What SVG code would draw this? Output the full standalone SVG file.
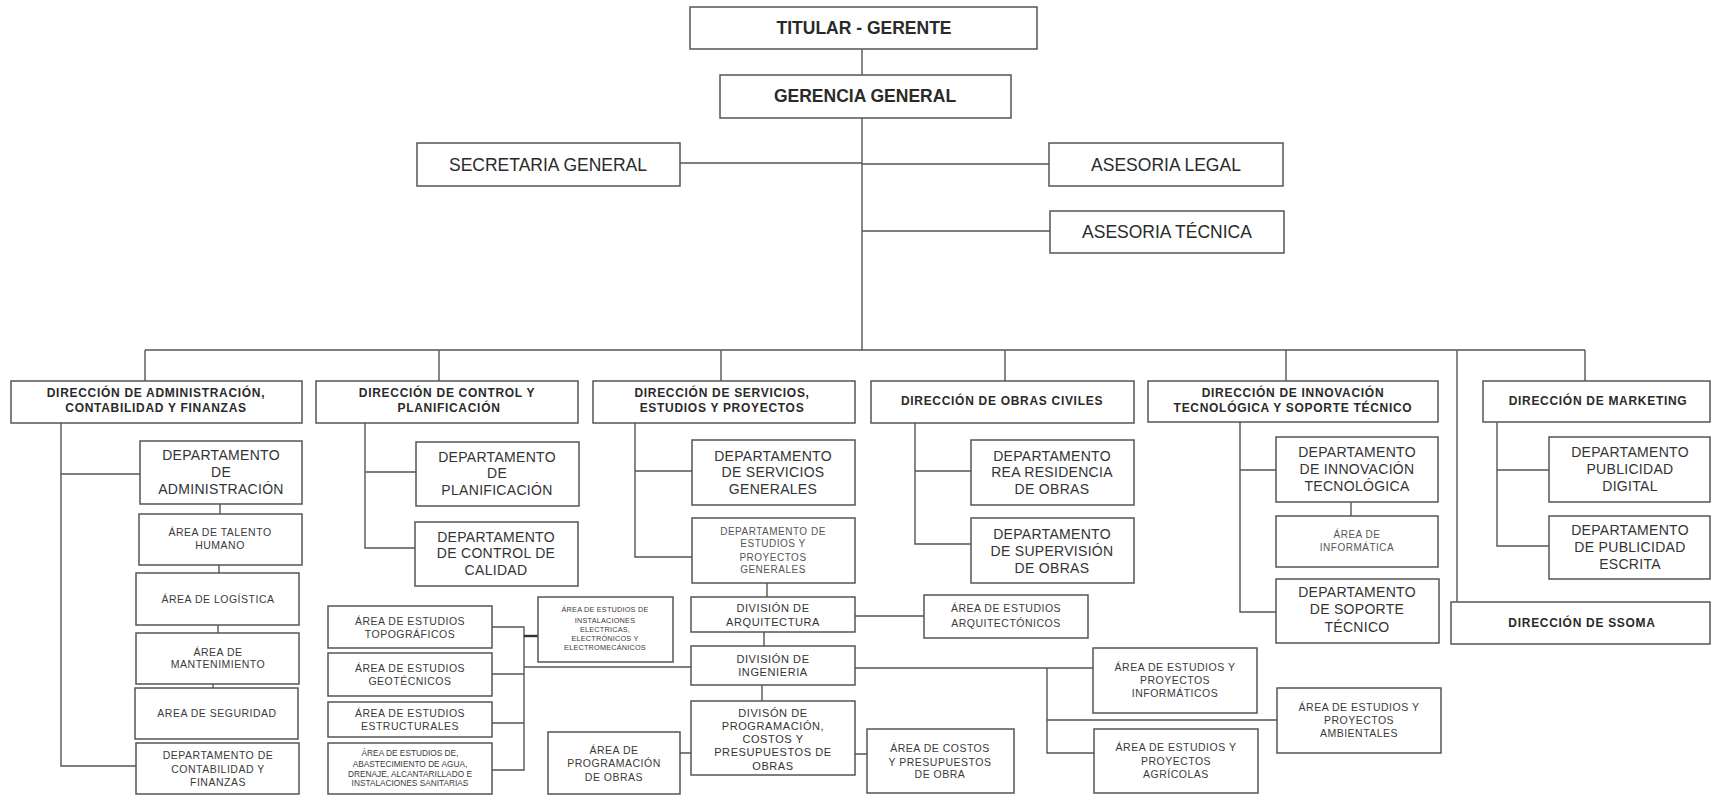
<svg xmlns="http://www.w3.org/2000/svg" width="1712" height="795" viewBox="0 0 1712 795">
<style>
.bg{fill:#ffffff}
.box{fill:#ffffff;stroke:#555555;stroke-width:1.5}
.ln{fill:none;stroke:#555555;stroke-width:1.4}
.thk{fill:none;stroke:#333333;stroke-width:2.4}
text{font-family:"Liberation Sans",Arial,sans-serif;text-anchor:middle;fill:#2a2a2a}
.t1{font-size:17.5px;font-weight:bold}
.t2{font-size:17.5px}
.dir{font-size:12px;font-weight:bold;letter-spacing:0.7px}
.dept{font-size:14px;letter-spacing:0.3px;fill:#333333}
.area{font-size:10.5px;letter-spacing:0.5px;fill:#3a3a3a}
.div{font-size:11px;letter-spacing:0.6px;fill:#333333}
.light{font-size:10px;letter-spacing:0.5px;fill:#555555}
.small{font-size:8.3px;fill:#3a3a3a}
.tiny{font-size:7.3px;letter-spacing:0.2px;fill:#3a3a3a}
</style>
<rect class="bg" x="0" y="0" width="1712" height="795"/>

<g id="connectors">
  <path class="ln" d="M862 49V350"/>
  <path class="ln" d="M680 163H862M862 164H1049M862 231H1050"/>
  <path class="ln" d="M145 350H1585"/>
  <path class="ln" d="M145 350V381M439 350V381M721 350V381M1005 350V381M1286 350V381M1585 350V381M1457 350V602"/>
  <!-- admin -->
  <path class="ln" d="M61 423V766H136M61 474H140"/>
  <path class="ln" d="M220 504V514M219 565V573M218 625V633M213 684V688"/>
  <!-- control -->
  <path class="ln" d="M365 423V548H415M365 472H416"/>
  <!-- servicios -->
  <path class="ln" d="M635 423V557H692M635 471H692"/>
  <path class="ln" d="M767 583V597M764 632V646M762 685V701"/>
  <path class="ln" d="M855 616H924"/>
  <path class="ln" d="M524 667H691"/>
  <path class="ln" d="M855 668H1093M1047 668V753H1094M1047 720H1277"/>
  <path class="ln" d="M680 753H691M855 754H867"/>
  <path class="ln" d="M492 627H524V770H492M492 674H524M492 723H524"/>
  <path class="thk" d="M524 636H538"/>
  <!-- obras -->
  <path class="ln" d="M915 423V544H971M915 471H971"/>
  <!-- innovacion -->
  <path class="ln" d="M1240 422V612H1276M1240 470H1276M1351 502V516"/>
  <!-- marketing -->
  <path class="ln" d="M1497 422V546H1549M1497 470H1549"/>
</g>

<g id="titular"><rect class="box" x="690" y="7" width="347" height="42"/><text class="t1" x="864" y="34">TITULAR - GERENTE</text></g>
<g id="gerencia"><rect class="box" x="720" y="75" width="291" height="43"/><text class="t1" x="865" y="102">GERENCIA GENERAL</text></g>
<g id="secretaria"><rect class="box" x="417" y="143" width="263" height="43"/><text class="t2" x="548" y="171">SECRETARIA GENERAL</text></g>
<g id="asesoria-legal"><rect class="box" x="1049" y="143" width="234" height="43"/><text class="t2" x="1166" y="171">ASESORIA LEGAL</text></g>
<g id="asesoria-tecnica"><rect class="box" x="1050" y="211" width="234" height="42"/><text class="t2" x="1167" y="238">ASESORIA TÉCNICA</text></g>

<g id="dir-admin"><rect class="box" x="11" y="381" width="291" height="42"/><text class="dir" x="156" y="397">DIRECCIÓN DE ADMINISTRACIÓN,</text><text class="dir" x="156" y="412">CONTABILIDAD Y FINANZAS</text></g>
<g id="dir-control"><rect class="box" x="316" y="381" width="262" height="42"/><text class="dir" x="447" y="397">DIRECCIÓN DE CONTROL Y</text><text class="dir" x="449" y="412">PLANIFICACIÓN</text></g>
<g id="dir-servicios"><rect class="box" x="593" y="381" width="262" height="42"/><text class="dir" x="722" y="397">DIRECCIÓN DE SERVICIOS,</text><text class="dir" x="722" y="412">ESTUDIOS Y PROYECTOS</text></g>
<g id="dir-obras"><rect class="box" x="871" y="381" width="263" height="42"/><text class="dir" x="1002" y="405">DIRECCIÓN DE OBRAS CIVILES</text></g>
<g id="dir-innovacion"><rect class="box" x="1148" y="381" width="290" height="41"/><text class="dir" x="1293" y="397">DIRECCIÓN DE INNOVACIÓN</text><text class="dir" x="1293" y="412">TECNOLÓGICA Y SOPORTE TÉCNICO</text></g>
<g id="dir-marketing"><rect class="box" x="1483" y="381" width="227" height="41"/><text class="dir" x="1598" y="405">DIRECCIÓN DE MARKETING</text></g>
<g id="dir-ssoma"><rect class="box" x="1451" y="602" width="259" height="42"/><text class="dir" x="1582" y="627">DIRECCIÓN DE SSOMA</text></g>

<g id="dept-administracion"><rect class="box" x="140" y="441" width="162" height="63"/><text class="dept" x="221" y="460">DEPARTAMENTO</text><text class="dept" x="221" y="477">DE</text><text class="dept" x="221" y="494">ADMINISTRACIÓN</text></g>
<g id="area-talento"><rect class="box" x="139" y="514" width="163" height="51"/><text class="area" x="220" y="536">ÁREA DE TALENTO</text><text class="area" x="220" y="549">HUMANO</text></g>
<g id="area-logistica"><rect class="box" x="136" y="573" width="163" height="52"/><text class="area" x="218" y="603">ÁREA DE LOGÍSTICA</text></g>
<g id="area-mantenimiento"><rect class="box" x="136" y="633" width="163" height="51"/><text class="area" x="218" y="656">ÁREA DE</text><text class="area" x="218" y="668">MANTENIMIENTO</text></g>
<g id="area-seguridad"><rect class="box" x="135" y="688" width="163" height="51"/><text class="area" x="217" y="717">AREA DE SEGURIDAD</text></g>
<g id="dept-contabilidad"><rect class="box" x="136" y="743" width="163" height="51"/><text class="area" x="218" y="759">DEPARTAMENTO DE</text><text class="area" x="218" y="773">CONTABILIDAD Y</text><text class="area" x="218" y="786">FINANZAS</text></g>

<g id="dept-planificacion"><rect class="box" x="416" y="442" width="163" height="64"/><text class="dept" x="497" y="462">DEPARTAMENTO</text><text class="dept" x="497" y="478">DE</text><text class="dept" x="497" y="495">PLANIFICACIÓN</text></g>
<g id="dept-calidad"><rect class="box" x="415" y="522" width="163" height="64"/><text class="dept" x="496" y="542">DEPARTAMENTO</text><text class="dept" x="496" y="558">DE CONTROL DE</text><text class="dept" x="496" y="575">CALIDAD</text></g>

<g id="dept-servicios-generales"><rect class="box" x="692" y="440" width="163" height="65"/><text class="dept" x="773" y="461">DEPARTAMENTO</text><text class="dept" x="773" y="477">DE SERVICIOS</text><text class="dept" x="773" y="494">GENERALES</text></g>
<g id="dept-estudios-proyectos"><rect class="box" x="692" y="518" width="163" height="65"/><text class="light" x="773" y="535">DEPARTAMENTO DE</text><text class="light" x="773" y="547">ESTUDIOS Y</text><text class="light" x="773" y="561">PROYECTOS</text><text class="light" x="773" y="573">GENERALES</text></g>
<g id="div-arquitectura"><rect class="box" x="691" y="597" width="164" height="35"/><text class="div" x="773" y="612">DIVISIÓN DE</text><text class="div" x="773" y="626">ARQUITECTURA</text></g>
<g id="area-arquitectonicos"><rect class="box" x="924" y="595" width="164" height="43"/><text class="area" x="1006" y="612">ÁREA DE ESTUDIOS</text><text class="area" x="1006" y="627">ARQUITECTÓNICOS</text></g>
<g id="div-ingenieria"><rect class="box" x="691" y="646" width="164" height="39"/><text class="div" x="773" y="663">DIVISIÓN DE</text><text class="div" x="773" y="676">INGENIERIA</text></g>
<g id="div-programacion"><rect class="box" x="691" y="701" width="164" height="74"/><text class="div" x="773" y="717">DIVISÓN DE</text><text class="div" x="773" y="730">PROGRAMACIÓN,</text><text class="div" x="773" y="743">COSTOS Y</text><text class="div" x="773" y="756">PRESUPUESTOS DE</text><text class="div" x="773" y="770">OBRAS</text></g>
<g id="area-programacion-obras"><rect class="box" x="548" y="732" width="132" height="62"/><text class="area" x="614" y="754">ÁREA DE</text><text class="area" x="614" y="767">PROGRAMACIÓN</text><text class="area" x="614" y="781">DE OBRAS</text></g>
<g id="area-costos"><rect class="box" x="867" y="729" width="147" height="64"/><text class="area" x="940" y="752">ÁREA DE COSTOS</text><text class="area" x="940" y="766">Y PRESUPUESTOS</text><text class="area" x="940" y="778">DE OBRA</text></g>

<g id="area-topograficos"><rect class="box" x="328" y="606" width="164" height="42"/><text class="area" x="410" y="625">ÁREA DE ESTUDIOS</text><text class="area" x="410" y="638">TOPOGRÁFICOS</text></g>
<g id="area-geotecnicos"><rect class="box" x="328" y="653" width="164" height="43"/><text class="area" x="410" y="672">ÁREA DE ESTUDIOS</text><text class="area" x="410" y="685">GEOTÉCNICOS</text></g>
<g id="area-estructurales"><rect class="box" x="328" y="702" width="164" height="35"/><text class="area" x="410" y="717">ÁREA DE ESTUDIOS</text><text class="area" x="410" y="730">ESTRUCTURALES</text></g>
<g id="area-abastecimiento"><rect class="box" x="328" y="743" width="164" height="51"/><text class="small" x="410" y="756">ÁREA DE ESTUDIOS DE,</text><text class="small" x="410" y="767">ABASTECIMIENTO DE AGUA,</text><text class="small" x="410" y="777">DRENAJE, ALCANTARILLADO E</text><text class="small" x="410" y="786">INSTALACIONES SANITARIAS</text></g>
<g id="area-instalaciones"><rect class="box" x="538" y="597" width="135" height="65"/><text class="tiny" x="605" y="612">ÁREA DE ESTUDIOS DE</text><text class="tiny" x="605" y="623">INSTALACIONES</text><text class="tiny" x="605" y="632">ELECTRICAS,</text><text class="tiny" x="605" y="641">ELECTRÓNICOS Y</text><text class="tiny" x="605" y="650">ELECTROMECÁNICOS</text></g>

<g id="area-informaticos"><rect class="box" x="1093" y="648" width="164" height="65"/><text class="area" x="1175" y="671">ÁREA DE ESTUDIOS Y</text><text class="area" x="1175" y="684">PROYECTOS</text><text class="area" x="1175" y="697">INFORMÁTICOS</text></g>
<g id="area-ambientales"><rect class="box" x="1277" y="688" width="164" height="65"/><text class="area" x="1359" y="711">ÁREA DE ESTUDIOS Y</text><text class="area" x="1359" y="724">PROYECTOS</text><text class="area" x="1359" y="737">AMBIENTALES</text></g>
<g id="area-agricolas"><rect class="box" x="1094" y="729" width="164" height="64"/><text class="area" x="1176" y="751">ÁREA DE ESTUDIOS Y</text><text class="area" x="1176" y="765">PROYECTOS</text><text class="area" x="1176" y="778">AGRÍCOLAS</text></g>

<g id="dept-residencia"><rect class="box" x="971" y="440" width="163" height="65"/><text class="dept" x="1052" y="461">DEPARTAMENTO</text><text class="dept" x="1052" y="477">REA RESIDENCIA</text><text class="dept" x="1052" y="494">DE OBRAS</text></g>
<g id="dept-supervision"><rect class="box" x="971" y="518" width="163" height="65"/><text class="dept" x="1052" y="539">DEPARTAMENTO</text><text class="dept" x="1052" y="556">DE SUPERVISIÓN</text><text class="dept" x="1052" y="573">DE OBRAS</text></g>

<g id="dept-innovacion"><rect class="box" x="1276" y="437" width="162" height="65"/><text class="dept" x="1357" y="457">DEPARTAMENTO</text><text class="dept" x="1357" y="474">DE INNOVACIÓN</text><text class="dept" x="1357" y="491">TECNOLÓGICA</text></g>
<g id="area-informatica"><rect class="box" x="1276" y="516" width="162" height="51"/><text class="light" x="1357" y="538">ÁREA DE</text><text class="light" x="1357" y="551">INFORMÁTICA</text></g>
<g id="dept-soporte"><rect class="box" x="1276" y="579" width="163" height="64"/><text class="dept" x="1357" y="597">DEPARTAMENTO</text><text class="dept" x="1357" y="614">DE SOPORTE</text><text class="dept" x="1357" y="632">TÉCNICO</text></g>

<g id="dept-publicidad-digital"><rect class="box" x="1549" y="437" width="161" height="65"/><text class="dept" x="1630" y="457">DEPARTAMENTO</text><text class="dept" x="1630" y="474">PUBLICIDAD</text><text class="dept" x="1630" y="491">DIGITAL</text></g>
<g id="dept-publicidad-escrita"><rect class="box" x="1549" y="516" width="161" height="63"/><text class="dept" x="1630" y="535">DEPARTAMENTO</text><text class="dept" x="1630" y="552">DE PUBLICIDAD</text><text class="dept" x="1630" y="569">ESCRITA</text></g>
</svg>
